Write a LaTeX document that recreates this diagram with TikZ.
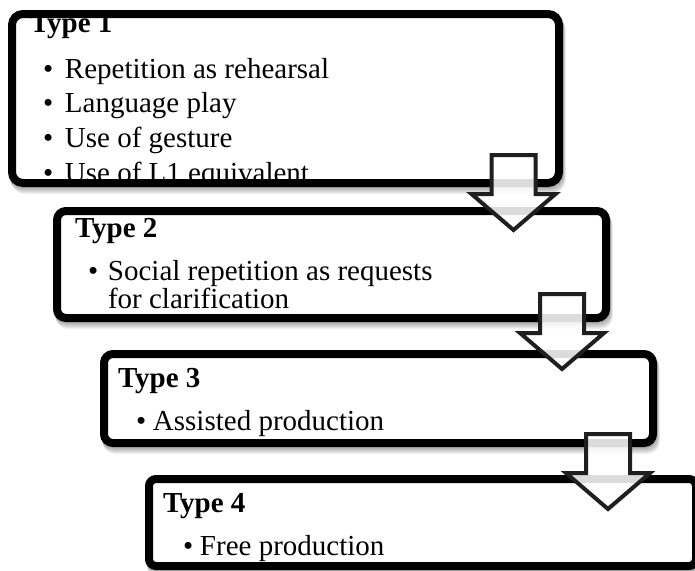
\documentclass[tikz,border=0pt]{standalone}
\usepackage{fontspec}
\setmainfont{Liberation Serif}
\usetikzlibrary{calc}
\tikzset{
  boxnode/.style={draw=black, line width=8pt, fill=white, inner sep=0pt, outer sep=0pt},
  lbl/.style={anchor=base west, inner sep=0pt, outer sep=0pt, font=\fontsize{29}{34}\selectfont},
  hdr/.style={lbl, font=\fontsize{29}{34}\selectfont\bfseries},
  blockarrow/.style={draw=black!88, line width=4pt, fill=white, fill opacity=0.86, line join=miter},
  downarrow/.pic={
    \path[blockarrow] (-22,0) -- (22,0) -- (22,39) -- (42,39) -- (0,75) -- (-42,39) -- (-22,39) -- cycle;
  }
}
\newcommand\boxshadow[5]{%
  \foreach \d in {1,...,7}{
    \fill[black, opacity=0.05, rounded corners=#5] (#1+0.4*\d,#2+\d) rectangle (#3+0.4*\d,#4+\d);
  }%
}
\newcommand\bul[2]{\makebox[#1][l]{\textbullet}#2}
\begin{document}
\begin{tikzpicture}[x=1pt,y=-1pt]
\useasboundingbox (0,0) rectangle (695,570);
\fill[white] (0,0) rectangle (695,570);

% shadows
\boxshadow{8}{10}{563}{187}{14}
\boxshadow{53}{207}{610}{322}{12}
\boxshadow{100}{350}{657}{447}{12}
\boxshadow{145}{475}{700}{570}{10}

% boxes
\node[boxnode, rounded corners=11, minimum width=547pt, minimum height=169pt] (b1) at (285.5,98.5) {};
\node[boxnode, rounded corners=9, minimum width=549pt, minimum height=107pt] (b2) at (331.5,264.5) {};
\node[boxnode, rounded corners=9, minimum width=549pt, minimum height=89pt] (b3) at (378.5,398.5) {};
\node[boxnode, rounded corners=7, minimum width=547pt, minimum height=87pt] (b4) at (422.5,522.5) {};

% box 1 text (clipped to interior)
\begin{scope}
  \clip[rounded corners=7] ($(b1.south west)+(4,-4)$) rectangle ($(b1.north east)+(-4,4)$);
  \node[hdr] (t1) at (30,32) {Type 1};
  \node[lbl] (t1a) at (43,78) {\bul{22pt}{Repetition as rehearsal}};
  \node[lbl] (t1b) at (43,112) {\bul{22pt}{Language play}};
  \node[lbl] (t1c) at (43,147) {\bul{22pt}{Use of gesture}};
  \node[lbl] (t1d) at (43,182) {\bul{22pt}{Use of L1 equivalent}};
\end{scope}

% box 2 text
\node[hdr] (t2) at (75,237) {Type 2};
\node[lbl] (t2a) at (88,280) {\bul{20pt}{Social repetition as requests}};
\node[lbl] (t2b) at (108,308) {for clarification};

% box 3 text
\node[hdr] (t3) at (118,387) {Type 3};
\node[lbl] (t3a) at (136,430) {\bul{17pt}{Assisted production}};

% box 4 text
\node[hdr] (t4) at (163,512) {Type 4};
\node[lbl] (t4a) at (183,555) {\bul{17pt}{Free production}};

% block arrows
\coordinate (a1) at (513.5,155);
\coordinate (a2) at (562,294);
\coordinate (a3) at (608,434);
\pic at (a1) {downarrow};
\pic at (a2) {downarrow};
\pic at (a3) {downarrow};
\end{tikzpicture}
\end{document}
